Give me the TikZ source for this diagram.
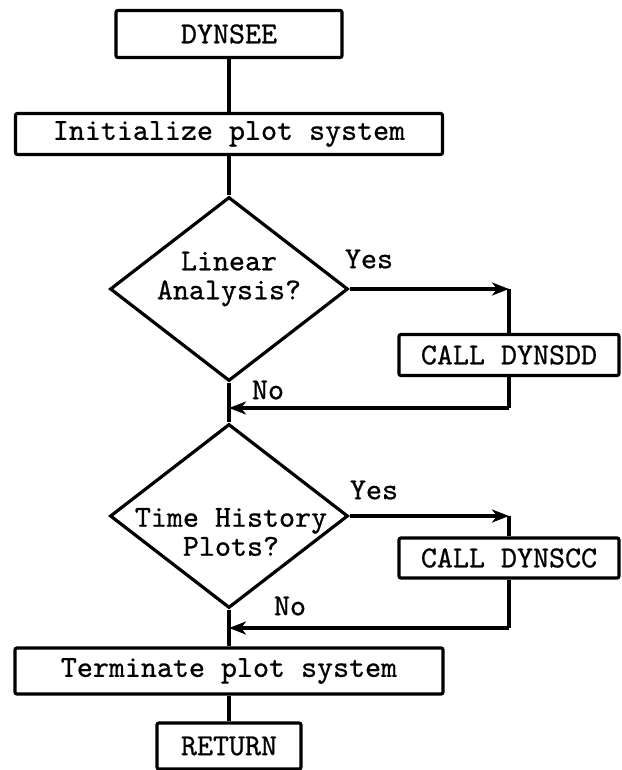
\documentclass[tikz,border=0pt]{standalone}
\usepackage{fontspec}
\newfontfamily\typed{lmmono10-regular.otf}[FakeBold=0.7]
\usetikzlibrary{shapes.geometric}
\usetikzlibrary{arrows.meta}

\begin{document}
\begin{tikzpicture}[x=1pt, y=-1pt,
    box/.style = {draw, line width=3.2pt, rounded corners=2pt,
                inner sep=0pt, font=\typed\fontsize{30.5}{30}\selectfont},
    decision/.style = {draw, diamond, line width=3.2pt, inner sep=0pt,
                minimum width=238pt, minimum height=184pt},
    ask/.style = {align=center, inner sep=0pt,
                font=\typed\fontsize{30.5}{30}\selectfont},
    flow/.style = {line width=3.2pt},
    flowarr/.style = {flow, -{Stealth[length=17pt, width=13pt, inset=5pt]}}  % open barb like the typed chart
                    ]
        \useasboundingbox (0,0) rectangle (621,770);
        \def\ax{229}
        \def\side{509}
        \foreach \x/\y/\n/\w/\h/\t in {\ax/34/dynsee/226/47/DYNSEE,
                \ax/134/init/427/41/Initialize plot system,
                \side/355/dynsdd/220/41/CALL DYNSDD,
                \side/558/dynscc/220/40/CALL DYNSCC,
                \ax/671/term/428/46/Terminate plot system,
                \ax/746/return/144/46/RETURN}
            \node[box, minimum width=\w pt, minimum height=\h pt] at (\x,\y) (\n) {\t};
        \node[decision] at (\ax,289) (linear) {};
        \node[decision] at (\ax,516) (timehist) {};
        \node[ask] at (\ax,279) (linear-q) {Linear\\[-1pt]Analysis?};
        \node[ask] at (\ax+2,532) (timehist-q) {Time History\\[-1pt]Plots?};
        \foreach \x/\y/\n/\t in {369/259/yes1/Yes, 268/390/no1/No,
                374/490/yes2/Yes, 290/606/no2/No}
            \node[ask] at (\x,\y) (\n) {\t};
        \coordinate (c1) at (\side,289);
        \coordinate (c2) at (\side,408);
        \coordinate (m1) at (\ax,408);
        \coordinate (c3) at (\side,516);
        \coordinate (c4) at (\side,628);
        \coordinate (m2) at (\ax,628);
        \draw [flow] (dynsee) -- (init);
        \draw [flow] (init) -- (linear);
        \draw [flow] (linear) -- (timehist);
        \draw [flow] (timehist) -- (term);
        \draw [flow] (term) -- (return);
        \draw [flowarr] (linear.east) -- (c1);
        \draw [flow] (c1) -- (dynsdd);
        \draw [flow] (dynsdd) -- (c2);
        \draw [flowarr] (c2) -- (m1);
        \draw [flowarr] (timehist.east) -- (c3);
        \draw [flow] (c3) -- (dynscc);
        \draw [flow] (dynscc) -- (c4);
        \draw [flowarr] (c4) -- (m2);
    \end{tikzpicture}
\end{document}
